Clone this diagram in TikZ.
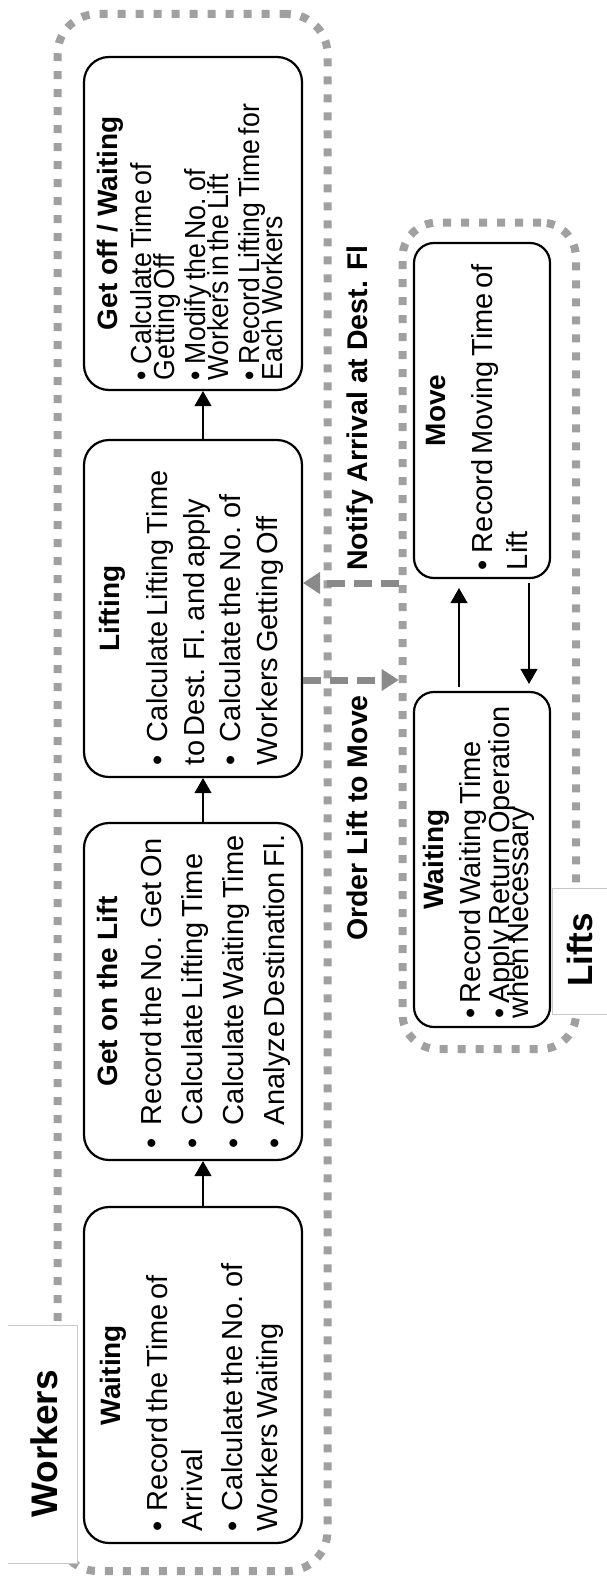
\documentclass[tikz,border=0pt]{standalone}
\usepackage{fontspec}
\setmainfont{Liberation Sans}[WordSpace=0.6]
\newfontfamily\narrowfont{Liberation Sans}[FakeStretch=0.92,WordSpace=0.6]
\usetikzlibrary{arrows.meta}

\definecolor{framegray}{RGB}{160,160,160}
\definecolor{msggray}{RGB}{138,138,138}
\definecolor{tabgray}{RGB}{200,200,200}

% bold face with ordinary word spaces
\newcommand\boldwords{\bfseries\spaceskip=0.278em plus 0.1em\relax}
% indent of the text after a bullet
\newlength\bind
% centred bold heading of a box
\newcommand\boxtitle[1]{{\centering\fontsize{28}{28}\selectfont\boldwords #1\par}}
% one bullet point with a hanging indent
\newcommand\bitem[1]{\par\hangindent=\bind\hangafter=1\noindent\makebox[\bind][l]{\textbullet}#1\par}
% body of a box: width, baseline skip, contents
\newcommand\boxbody[3]{\begin{minipage}[t]{#1}\fontsize{29}{#2}\selectfont
  \lineskiplimit=-200pt\raggedright #3\end{minipage}}

\begin{document}
\begin{tikzpicture}[x=1pt,y=-1pt,
  frame/.style={draw=framegray, line width=8pt, dash pattern=on 8pt off 10pt, inner sep=0pt},
  wbox/.style={draw, line width=2.2pt, rounded corners=25pt, fill=white, minimum width=218pt, inner sep=0pt},
  lbox/.style={draw, line width=2.2pt, rounded corners=20pt, fill=white, minimum width=136pt, inner sep=0pt},
  txt/.style={rotate=90, anchor=base west, inner sep=0pt, outer sep=0pt},
  lbl/.style={rotate=90, anchor=base, inner sep=0pt, font=\fontsize{28.5}{28.5}\selectfont\boldwords},
  tab/.style={fill=white, inner sep=0pt},
  tabline/.style={draw=tabgray, line width=1pt},
  flow/.style={line width=2.2pt, -{Triangle[length=15pt,width=17pt,line width=1pt]}},
  msg/.style={draw=msggray, line width=7pt, dash pattern=on 18pt off 9pt,
              -{Triangle[length=17pt,width=22pt,line width=1pt,fill=msggray]}}
]
\useasboundingbox (0,0) rectangle (607,1576);

% swimlane frames
\node[frame, rounded corners=40pt, minimum width=270pt, minimum height=1557pt] (workers-frame) at (192.5,792.5) {};
\node[frame, rounded corners=35pt, minimum width=173.5pt, minimum height=826.5pt] (lifts-frame) at (489.25,635.75) {};

% lane tabs
\node[tab, minimum width=69pt, minimum height=237pt] (workers-tab) at (42.5,1444.5) {};
\draw[tabline] (workers-tab.north west) -- (workers-tab.north east) -- (workers-tab.south east) -- (workers-tab.south west);
\node[rotate=90, anchor=base, inner sep=0pt, font=\fontsize{37}{37}\selectfont\boldwords] (workers-title) at (57,1444) {Workers};

\node[tab, minimum width=54pt, minimum height=125pt] (lifts-tab) at (580,951.5) {};
\draw[tabline] (lifts-tab.north east) -- (lifts-tab.north west) -- (lifts-tab.south west) -- (lifts-tab.south east);
\node[rotate=90, anchor=base, inner sep=0pt, font=\fontsize{35}{35}\selectfont\boldwords] (lifts-title) at (592,950) {Lifts};

% worker states
\node[wbox, minimum height=333pt] (getoff) at (193,223.5) {};
\node[wbox, minimum height=337pt] (lifting) at (193,608.5) {};
\node[wbox, minimum height=337pt] (geton) at (193,991.5) {};
\node[wbox, minimum height=336pt] (wwait) at (193,1375) {};

% lift states
\node[lbox, minimum height=335pt] (move) at (482,410.5) {};
\node[lbox, minimum height=335pt] (lwait) at (482,859.5) {};

% texts of the worker states
\node[txt] (wwait-text) at (120,1531) {\boxbody{312pt}{35pt}{%
  \boxtitle{Waiting}\vspace{12pt}\setlength\bind{20pt}%
  \bitem{Record the Time of\\Arrival}\vspace{5pt}%
  \bitem{Calculate the No. of\\Workers Waiting}}};

\node[txt] (geton-text) at (117,1148) {\boxbody{313pt}{35pt}{%
  \boxtitle{Get on the Lift}\vspace{9pt}\setlength\bind{23pt}%
  \bitem{\mbox{Record the No. Get On}}\vspace{6pt}%
  \bitem{\mbox{Calculate Lifting Time}}\vspace{6pt}%
  \bitem{\mbox{Calculate Waiting Time}}\vspace{6pt}%
  \bitem{\mbox{Analyze Destination Fl.}}}};

\node[txt] (lifting-text) at (119,765) {\boxbody{313pt}{37pt}{%
  \boxtitle{Lifting}\vspace{11pt}\setlength\bind{23pt}%
  \bitem{\mbox{Calculate Lifting Time}\\\mbox{to Dest. Fl. and apply}}\vspace{-1pt}%
  \bitem{\mbox{Calculate the No. of}\\\mbox{Workers Getting Off}}}};

\node[txt] (getoff-text) at (117,380) {\boxbody{313pt}{23pt}{%
  \boxtitle{Get off / Waiting}\vspace{11pt}\setlength\bind{16pt}\narrowfont
  \bitem{Calculate Time of\\Getting Off}\vspace{8pt}%
  \bitem{Modify the No. of\\Workers in the Lift}\vspace{8pt}%
  \bitem{\mbox{Record Lifting Time for}\\Each Workers}}};

% texts of the lift states
\node[txt] (move-text) at (445,570) {\boxbody{319pt}{35pt}{%
  \boxtitle{Move}\vspace{12pt}\setlength\bind{17pt}%
  \bitem{\mbox{Record Moving Time of}\\Lift}}};

\node[txt] (lwait-text) at (443,1018) {\boxbody{317pt}{19pt}{%
  \boxtitle{Waiting}\vspace{18pt}\setlength\bind{15pt}%
  \bitem{Record Waiting Time}\vspace{10pt}%
  \bitem{\mbox{Apply Return Operation}\\when Necessary}}};

% worker flow
\draw[flow] ([xshift=10pt]wwait.north) -- ([xshift=10pt]geton.south);
\draw[flow] ([xshift=10pt]geton.north) -- ([xshift=10pt]lifting.south);
\draw[flow] ([xshift=10pt]lifting.north) -- ([xshift=10pt]getoff.south);

% lift flow
\draw[flow, shorten <=4pt, shorten >=9pt] ([xshift=-23pt]lwait.north) -- ([xshift=-23pt]move.south);
\draw[flow, shorten <=4pt, shorten >=7pt] ([xshift=47pt]move.south) -- ([xshift=47pt]lwait.north);

% messages between the lanes
\coordinate (order-start) at ([yshift=-71.5pt]lifting.east);
\coordinate (notify-start) at ([yshift=25.5pt]lifting.east);
\draw[msg] (order-start) -- (order-start -| lifts-frame.west);
\draw[msg] (notify-start -| lifts-frame.west) -- (notify-start);

\node[lbl] (order-label) at (367,818) {Order Lift to Move};
\node[lbl] (notify-label) at (367,408) {Notify Arrival at Dest. Fl};
\end{tikzpicture}
\end{document}
